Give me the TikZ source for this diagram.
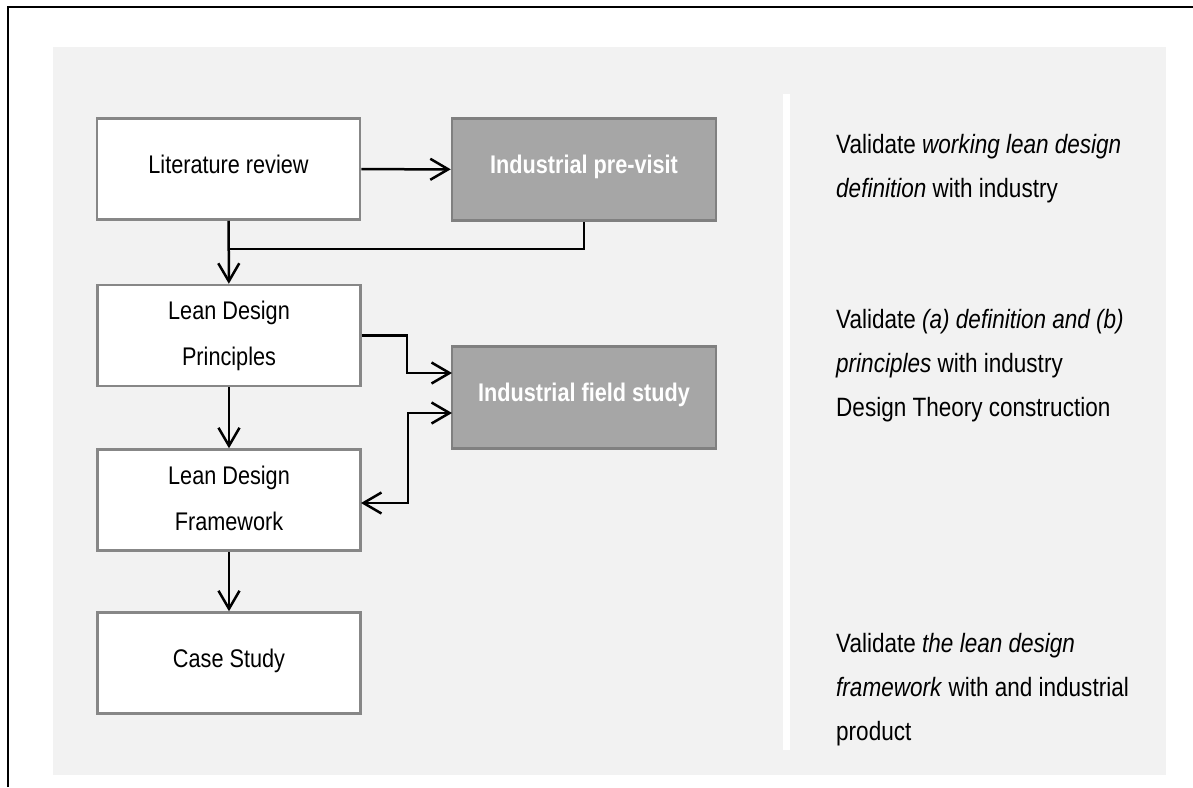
\documentclass[tikz,border=0pt]{standalone}
\usepackage{fontspec}
\setmainfont{Liberation Sans}[FakeStretch=0.85]
\usetikzlibrary{arrows.meta,calc}

\definecolor{panel}{HTML}{F2F2F2}
\definecolor{boxline}{HTML}{878787}
\definecolor{darkbox}{HTML}{A6A6A6}
\definecolor{darkline}{HTML}{808080}

\tikzset{
  stage/.style={draw=boxline, line width=2.5pt, fill=white, minimum width=263pt,
    minimum height=101pt, inner sep=0pt, align=center,
    font=\fontsize{25.5}{46}\selectfont},
  oneline/.style={text height=18pt, text depth=10pt},
  twoline/.style={text height=64pt, text depth=4pt},
  visit/.style={draw=darkline, line width=2.5pt, fill=darkbox, minimum width=264pt,
    minimum height=102pt, inner sep=0pt, text=white,
    font=\fontsize{25.5}{46}\selectfont\bfseries, text height=18pt, text depth=10pt},
  note/.style={anchor=base west, align=left, inner sep=0pt,
    font=\fontsize{26.5}{44}\selectfont},
  flow/.style={line width=2.5pt, -{Straight Barb[length=18pt,width=21pt,line width=2.5pt]}},
  flowboth/.style={line width=2.5pt, {Straight Barb[length=18pt,width=21pt,line width=2.5pt]}-{Straight Barb[length=18pt,width=21pt,line width=2.5pt]}}
}

\begin{document}
\begin{tikzpicture}[x=1pt, y=-1pt]
\useasboundingbox (0,0) rectangle (1193,787);

% frame edges and shaded panel
\draw[line width=2pt] (8,787) -- (8,6.5) -- (1193,6.5);
\fill[panel] (53,47) rectangle (1166,775);
\fill[white] (783,94) rectangle (790,750);

% research stages
\node[stage, oneline] (lit) at (228.5,169) {Literature review};
\node[stage, twoline] (ldp) at (229,335.5) {Lean Design\\Principles};
\node[stage, twoline] (ldf) at (229,500) {Lean Design\\Framework};
\node[stage, oneline] (cs)  at (229,663) {Case Study};

% industry involvement
\node[visit] (pre)   at (584,169.5) {Industrial pre-visit};
\node[visit] (field) at (584,397.5) {Industrial field study};

% bend points of the connectors
\coordinate (join)  at (228.5,249);
\coordinate (bendA) at (407,335.5);
\coordinate (inA)   at (452,373);
\coordinate (inB)   at (452,413);
\coordinate (bendB) at (408,503);
\coordinate (outB)  at (361,503);

% connectors
\draw[flow] (lit) -- (pre);
\draw[flow] (lit) -- (ldp);
\draw[line width=2.5pt] (pre.south) |- (join);
\draw[flow] (ldp.east) -- (bendA) |- (inA);
\draw[flowboth] (inB) -| (bendB) -- (outB);
\draw[flow] (ldp) -- (ldf);
\draw[flow] (ldf) -- (cs);

% validation notes (anchored at the baseline of the last line)
\node[note] (n1) at (836,197) {Validate \textit{working lean design}\\\textit{definition} with industry};
\node[note] (n2) at (836,372) {Validate \textit{(a) definition and (b)}\\\textit{principles} with industry};
\node[note] (n3) at (836,416) {Design Theory construction};
\node[note] (n4) at (836,740) {Validate \textit{the lean design}\\\textit{framework} with and industrial\\product};
\end{tikzpicture}
\end{document}
